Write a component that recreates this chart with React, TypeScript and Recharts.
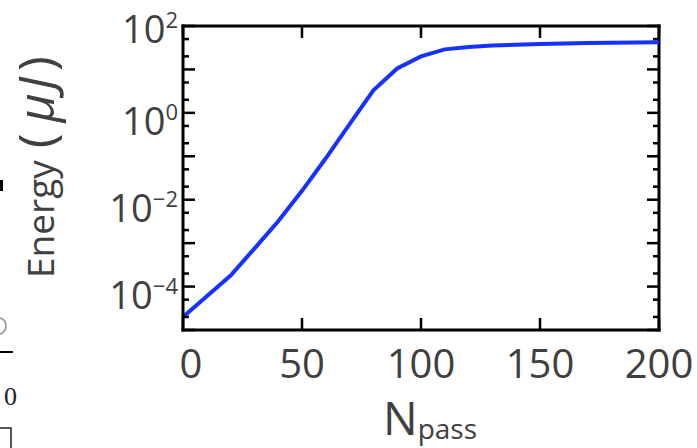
import { LineChart, Line, XAxis, YAxis, ReferenceLine } from 'recharts'

// pulse energy after each pass through the amplifier
const passes = [0, 10, 20, 30, 40, 50, 60, 70, 80, 90, 100, 110, 120, 130, 140, 150, 160, 170, 180, 190, 200]
const energy = [
  2.0e-5, 6.0e-5, 1.8e-4, 7.5e-4, 3.2e-3, 1.6e-2, 9.0e-2, 0.55, 3.3, 10.5, 20,
  29, 33, 35.5, 37, 38.5, 39.5, 40.5, 41, 41.5, 42,
]

const xTicks = [0, 50, 100, 150, 200]
const yDecades = [1e-5, 1e-4, 1e-3, 1e-2, 1e-1, 1e0, 1e1, 1e2]
const yMinor = [2e-5, 5e-5, 2e-4, 5e-4, 2e-3, 5e-3, 2e-2, 5e-2, 2e-1, 5e-1, 2, 5, 20, 50]
const yLabelled = [1e-4, 1e-2, 1e0, 1e2]

const data = passes.map((n, i) => ({ n, energy: energy[i] }))

const W = 697
const H = 448
const FRAME = { left: 183, right: 659, top: 26, bottom: 330 }
const Y_AXIS_W = 100
const X_AXIS_H = 60

const INK = '#404040'
const FONT = '"Open Sans", sans-serif'
const MAJOR = 12
const MINOR = 6

const supText = (exp: number) => (exp < 0 ? `\u2212${-exp}` : `${exp}`)

function LeftTick({ y, payload }: any) {
  const v: number = payload.value
  const major = yDecades.includes(v)
  const len = major ? MAJOR : MINOR
  const exp = Math.round(Math.log10(v))
  return (
    <g>
      <line x1={FRAME.left} x2={FRAME.left + len} y1={y} y2={y} stroke="#000" strokeWidth={2.5} />
      <line x1={FRAME.right} x2={FRAME.right - len} y1={y} y2={y} stroke="#000" strokeWidth={2.5} />
      {yLabelled.includes(v) && (
        <text
          x={178}
          y={y + (exp === 2 ? 17 : 22)}
          textAnchor="end"
          fontFamily={FONT}
          fontSize={38}
          fill={INK}
        >
          10
          <tspan dy={-15} fontSize={22}>
            {supText(exp)}
          </tspan>
        </text>
      )}
    </g>
  )
}

function BottomTick({ x, payload }: any) {
  const v: number = payload.value
  return (
    <g>
      <line x1={x} x2={x} y1={FRAME.bottom} y2={FRAME.bottom - MAJOR} stroke="#000" strokeWidth={2.5} />
      <line x1={x} x2={x} y1={FRAME.top} y2={FRAME.top + MAJOR} stroke="#000" strokeWidth={2.5} />
      <text
        x={x + (v === 0 ? 8 : 0)}
        y={378}
        textAnchor="middle"
        fontFamily={FONT}
        fontSize={40}
        fill={INK}
      >
        {v}
      </text>
    </g>
  )
}

const yLabel = () => (
  <text transform={`translate(54, 278) rotate(-90)`} fontFamily={FONT} fill={INK} fontSize={37}>
    Energy
    <tspan dx={12} fontSize={50}>(</tspan>
    <tspan dx={11} fontSize={50} fontStyle="italic">μ</tspan>
    <tspan dx={3} fontSize={50} fontStyle="italic">J</tspan>
    <tspan dx={6} fontSize={50}>)</tspan>
  </text>
)

const xLabel = () => (
  <text x={383} y={435} fontFamily={FONT} fill={INK} fontSize={46}>
    N
    <tspan dy={4} fontSize={28}>pass</tspan>
  </text>
)

// pieces of the neighbouring panel showing at the left edge
function EdgeBits() {
  return (
    <svg width={W} height={H} style={{ position: 'absolute', left: 0, top: 0 }}>
      <rect x={0} y={180} width={3} height={11} fill="#000" />
      <path d="M0 318 Q6 320 6 326 Q6 332 0 334" fill="none" stroke="#a09080" strokeWidth={1.6} />
      <line x1={0} x2={13} y1={352} y2={352} stroke="#000" strokeWidth={2} />
      <text x={17} y={405} textAnchor="end" fontFamily="serif" fontSize={26} fill="#222">
        0
      </text>
      <rect x={-5} y={428} width={16} height={30} fill="none" stroke="#222" strokeWidth={1.5} />
    </svg>
  )
}

export default function App() {
  return (
    <div style={{ position: 'absolute', left: 0, top: 0, width: W, height: H, background: '#fff' }}>
      <EdgeBits />
      <div style={{ position: 'absolute', left: 0, top: 0 }}>
        <LineChart
          width={W}
          height={H}
          data={data}
          margin={{
            top: FRAME.top,
            right: W - FRAME.right,
            left: FRAME.left - Y_AXIS_W,
            bottom: H - FRAME.bottom - X_AXIS_H,
          }}
        >
          <XAxis
            dataKey="n"
            type="number"
            domain={[0, 200]}
            ticks={xTicks}
            interval={0}
            height={X_AXIS_H}
            tickLine={false}
            axisLine={{ stroke: '#000', strokeWidth: 3, strokeLinecap: 'square' }}
            tick={<BottomTick />}
            label={{ content: xLabel }}
          />
          <YAxis
            dataKey="energy"
            scale="log"
            domain={[1e-5, 1e2]}
            allowDataOverflow
            ticks={[...yDecades, ...yMinor]}
            interval={0}
            width={Y_AXIS_W}
            tickLine={false}
            axisLine={{ stroke: '#000', strokeWidth: 3, strokeLinecap: 'square' }}
            tick={<LeftTick />}
            label={{ content: yLabel }}
          />
          <ReferenceLine y={1e2} stroke="#000" strokeWidth={3} strokeLinecap="square" />
          <ReferenceLine x={200} stroke="#000" strokeWidth={3} strokeLinecap="square" />
          <Line
            type="linear"
            dataKey="energy"
            stroke="#1632ff"
            strokeWidth={4}
            dot={false}
            isAnimationActive={false}
          />
        </LineChart>
      </div>
    </div>
  )
}
